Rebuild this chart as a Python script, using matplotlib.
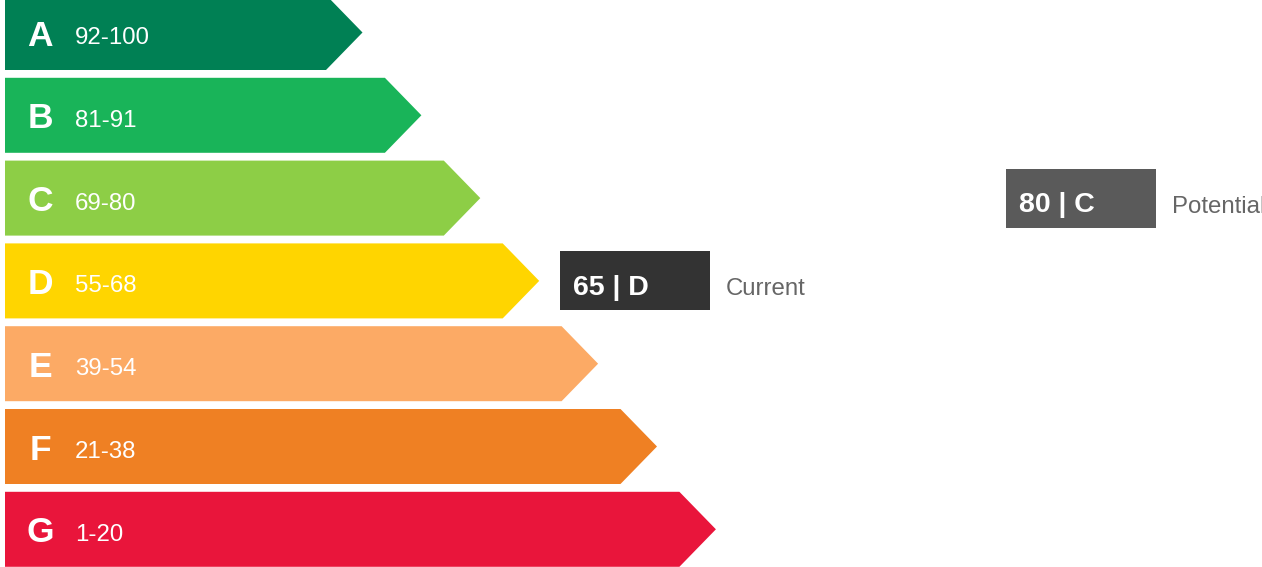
import matplotlib
matplotlib.use("Agg")
import matplotlib.pyplot as plt
from matplotlib.patches import Polygon, Rectangle

# ---- data ----
letters = ["A", "B", "C", "D", "E", "F", "G"]
ranges = ["92-100", "81-91", "69-80", "55-68", "39-54", "21-38", "1-20"]
lower_bounds = [92, 81, 69, 55, 39, 21, 1]
band_colors = ["#008054", "#19b459", "#8dce46", "#ffd500", "#fcaa65", "#ef8023", "#e9153b"]
current_score = 65
potential_score = 80
marker_labels = ["Current", "Potential"]

# ---- layout (pixels) ----
W, H = 1262, 567
fig = plt.figure(figsize=(W / 100, H / 100), dpi=100)
ax = fig.add_axes([0, 0, 1, 1])
ax.set_xlim(0, W)
ax.set_ylim(H, 0)
ax.axis("off")

FONT = ["Liberation Sans", "DejaVu Sans"]
x0 = 5
top0 = -5
pitch = 82.8
bar_h = 75
body0 = 326
step = 58.9
tip = 36.5


def band_index(score):
    for i, lb in enumerate(lower_bounds):
        if score >= lb:
            return i
    return len(lower_bounds) - 1


for i, (let, rng, col) in enumerate(zip(letters, ranges, band_colors)):
    top = top0 + i * pitch
    bot = top + bar_h
    cy = (top + bot) / 2
    xe = body0 + i * step
    poly = Polygon([(x0, top), (xe, top), (xe + tip, cy), (xe, bot), (x0, bot)],
                   closed=True, facecolor=col, edgecolor="none")
    ax.add_patch(poly)
    ax.text(40, cy, let, color="white", fontsize=25.5, fontweight="bold",
            family=FONT, ha="center", va="center_baseline")
    ax.text(75, cy + 3, rng, color="white", fontsize=17.3, family=FONT,
            ha="left", va="center_baseline")

# markers
box_w, box_h = 150, 59
marker_x = [560, 1006]
marker_colors = ["#333333", "#5a5a5a"]
for score, lab, bx, bc in zip([current_score, potential_score], marker_labels,
                              marker_x, marker_colors):
    bi = band_index(score)
    cy = top0 + bi * pitch + bar_h / 2
    ax.add_patch(Rectangle((bx, cy - box_h / 2), box_w, box_h,
                           facecolor=bc, edgecolor="none"))
    ax.text(bx + 13, cy + 4, f"{score} | {letters[bi]}", color="white",
            fontsize=20.5, fontweight="bold", family=FONT, ha="left",
            va="center_baseline")
    ax.text(bx + box_w + 16, cy + 6, lab, color="#666666", fontsize=17.3,
            family=FONT, ha="left", va="center_baseline")

fig.savefig("out.png", dpi=100, facecolor="white")
